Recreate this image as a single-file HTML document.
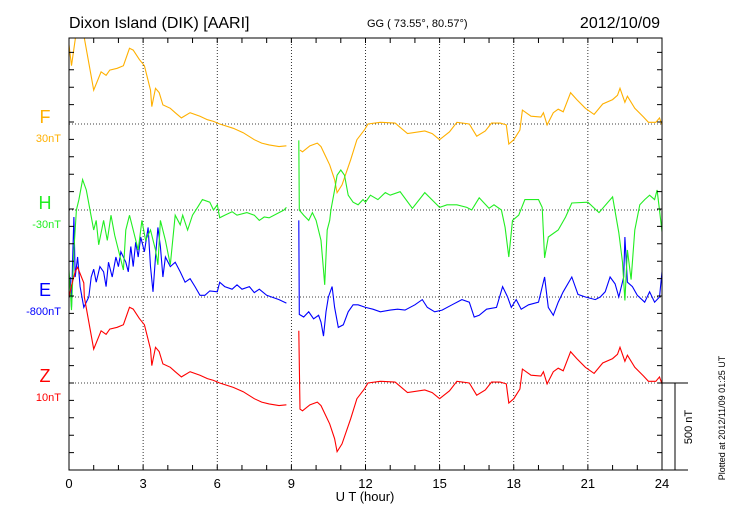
<!DOCTYPE html>
<html><head><meta charset="utf-8"><style>
html,body{margin:0;padding:0;background:#fff;}
svg{display:block;font-family:"Liberation Sans",sans-serif;}
</style></head><body>
<svg id="chart" width="730" height="520" viewBox="0 0 730 520">
<text x="69" y="28" font-size="16" fill="#000">Dixon Island (DIK)  [AARI]</text>
<text x="367" y="27" font-size="11" fill="#000">GG ( 73.55°,  80.57°)</text>
<text x="660" y="28" font-size="16" fill="#000" text-anchor="end">2012/10/09</text>
<g id="grid"></g>
<g id="series"></g>
<g id="axes"></g>
<text x="365" y="501" font-size="13" text-anchor="middle">U T (hour)</text>
<text transform="translate(692,427) rotate(-90)" font-size="11" text-anchor="middle">500 nT</text>
<text transform="translate(725,418) rotate(-90)" font-size="9" text-anchor="middle">Plotted at 2012/11/09 01:25 UT</text>
</svg>
<script>
const xTicks=[0,3,6,9,12,15,18,21,24];
const compNames=["F","H","E","Z"];
const compScales=["30nT","-30nT","-800nT","10nT"];
const compColors=["#ffb000","#22ee22","#0000ff","#ff0000"];
const compBase=[124,210,297,383];

const fT=[0,0.1,0.25,0.35,0.6,0.62,1.0,1.3,1.5,1.65,1.95,2.2,2.45,2.6,2.85,3.05,3.3,3.35,3.5,3.65,3.8,4.1,4.3,4.55,4.9,5.3,5.6,5.85,6.1,6.65,7.05,7.5,7.8,8.1,8.5,8.8,9.0,9.35,9.45,9.75,10.05,10.2,10.55,10.75,10.85,11.05,11.4,11.65,11.95,12.1,12.6,13.2,13.7,14.4,14.7,15.0,15.4,15.7,16.2,16.5,16.85,17.1,17.45,17.7,17.8,18.0,18.25,18.35,18.7,19.1,19.2,19.35,19.6,19.8,20.0,20.3,20.55,20.9,21.25,21.6,22.0,22.2,22.3,22.5,22.6,22.9,23.25,23.45,23.75,23.9,24];
const fV=[455,335,485,630,575,495,195,300,280,310,320,335,435,425,370,335,195,100,205,180,110,90,65,35,65,45,25,15,0,-25,-50,-90,-110,-120,-130,-125,null,-150,-160,-125,-110,-130,-235,-320,-395,-350,-205,-90,-35,0,10,5,-55,-40,-55,-90,-45,10,0,-70,-40,5,5,-5,-115,-90,-35,80,45,40,65,-5,65,85,70,180,140,90,55,115,140,165,205,125,160,90,40,10,10,35,-5];

const zT=[0,0.1,0.25,0.35,0.6,0.62,1.0,1.3,1.5,1.65,1.95,2.2,2.45,2.6,2.85,3.05,3.3,3.35,3.5,3.65,3.8,4.1,4.3,4.55,4.9,5.3,5.6,5.85,6.1,6.65,7.05,7.5,7.8,8.1,8.5,8.8,9.0,9.3,9.35,9.45,9.75,10.05,10.2,10.55,10.75,10.85,11.05,11.4,11.65,11.95,12.1,12.6,13.2,13.7,14.4,14.7,15.0,15.4,15.7,16.2,16.5,16.85,17.1,17.45,17.7,17.8,18.0,18.25,18.35,18.7,19.1,19.2,19.35,19.6,19.8,20.0,20.3,20.55,20.9,21.25,21.6,22.0,22.2,22.3,22.5,22.6,22.9,23.25,23.45,23.75,23.9,24];
const zV=[495,560,640,665,575,495,195,300,280,310,320,335,435,425,370,335,195,100,205,180,110,90,65,35,65,45,25,15,0,-25,-50,-90,-110,-120,-130,-125,null,300,-150,-160,-125,-110,-130,-235,-320,-395,-350,-205,-90,-35,0,10,5,-55,-40,-55,-90,-45,10,0,-70,-40,5,5,-5,-115,-90,-35,80,45,40,65,-5,65,85,70,180,140,90,55,115,140,165,205,125,160,90,40,10,10,35,-5];

const hT=[0,0.1,0.2,0.3,0.4,0.55,0.7,0.85,1.0,1.1,1.2,1.4,1.55,1.7,1.85,2.0,2.2,2.3,2.45,2.6,2.8,2.95,3.1,3.3,3.5,3.6,3.7,3.9,4.1,4.3,4.5,4.6,4.8,5.0,5.2,5.4,5.7,5.85,6.0,6.1,6.3,6.6,6.8,7.2,7.5,7.7,7.9,8.1,8.5,8.7,8.8,9.0,9.3,9.32,9.5,9.7,9.85,10.0,10.2,10.3,10.35,10.45,10.55,10.6,10.75,10.85,11.0,11.15,11.3,11.5,11.7,11.9,12.0,12.2,12.5,12.8,13.0,13.4,13.9,14.4,15.0,15.3,15.7,16.1,16.3,16.6,17.0,17.2,17.5,17.65,17.8,17.95,18.2,18.45,19.0,19.15,19.25,19.4,19.8,20.1,20.35,21.0,21.45,22.0,22.25,22.4,22.5,22.6,22.75,22.9,23.1,23.3,23.5,23.7,23.8,23.9,24];
const hV=[-345,-575,-230,0,60,175,115,0,-115,-60,-200,-60,-175,-30,-145,-230,-345,-115,-30,-115,-230,-60,-175,-115,-230,-315,-60,-175,-315,-30,-85,-30,-115,-30,15,60,45,0,30,-45,-30,-10,-30,-15,-30,-60,-40,-45,-15,0,15,null,400,0,-30,-60,-15,-60,-175,-345,-430,-115,-60,0,115,200,230,200,85,45,30,60,45,85,60,100,85,105,10,100,15,30,30,15,0,70,10,30,0,-100,-270,-60,-30,60,60,15,-275,-155,-115,-40,40,45,-15,75,-130,-300,-520,-230,-400,-115,30,60,85,60,115,0,-125];

const eT=[0,0.05,0.1,0.15,0.2,0.25,0.35,0.45,0.6,0.8,0.9,1.0,1.1,1.25,1.4,1.5,1.6,1.75,1.9,2.0,2.1,2.3,2.4,2.5,2.6,2.7,2.8,2.9,3.05,3.2,3.3,3.4,3.5,3.6,3.7,3.8,3.9,4.1,4.3,4.5,4.7,4.9,5.1,5.3,5.5,5.7,6.0,6.1,6.3,6.6,6.8,7.0,7.3,7.5,7.7,8.0,8.2,8.5,8.8,9.0,9.3,9.32,9.5,9.7,9.9,10.1,10.2,10.3,10.4,10.5,10.65,10.75,10.9,11.1,11.3,11.5,11.7,12,12.3,12.6,13.0,13.3,13.6,14.0,14.3,14.5,14.8,15.1,15.5,15.9,16.2,16.4,16.6,16.9,17.3,17.55,17.75,17.9,18.1,18.3,18.6,19.0,19.25,19.4,19.6,19.8,20.0,20.35,20.6,20.9,21.3,21.5,21.7,21.9,22.1,22.25,22.45,22.5,22.6,22.8,23.0,23.3,23.5,23.7,23.9,24];
const eV=[60,115,-60,230,460,115,230,60,-60,0,115,160,85,175,145,60,200,115,230,175,260,200,145,290,175,315,230,345,260,400,175,30,230,400,290,115,230,175,200,145,85,105,60,10,10,35,30,85,60,45,70,45,60,25,45,10,0,-15,-35,null,440,-100,-115,-85,-125,-105,-145,-225,-85,0,60,-60,-175,-160,-85,-45,-45,-60,-70,-85,-75,-70,-75,-45,-15,-60,-85,-75,-45,-15,-30,-115,-105,-70,-60,60,0,-60,-15,-70,-45,-30,115,-60,-105,-30,30,115,15,0,-15,0,30,115,75,0,115,345,85,60,10,-30,30,-30,0,145];

const X0=69,X1=662,Y0=38,Y1=470,PXNT=87/500;
const xs=h=>X0+(X1-X0)*h/24;
const NS="http://www.w3.org/2000/svg";
function mk(tag,attrs,parent){const e=document.createElementNS(NS,tag);for(const k in attrs)e.setAttribute(k,attrs[k]);parent.appendChild(e);return e;}
const svg=document.getElementById('chart');
const grid=document.getElementById('grid'),axes=document.getElementById('axes'),ser=document.getElementById('series');
const defs=mk('defs',{},svg);
const cp=mk('clipPath',{id:'clip'},defs);
mk('rect',{x:X0,y:Y0,width:X1-X0,height:Y1-Y0},cp);

xTicks.forEach(h=>{
  if(h>0&&h<24){const l=mk('line',{x1:xs(h),x2:xs(h),y1:Y0,y2:Y1,stroke:'#000','stroke-width':0.8,'stroke-dasharray':'1,2'},grid);
  
  }
  const t=mk('text',{x:xs(h),y:488,'font-size':13,'text-anchor':'middle'},axes);t.textContent=h;
  
  
});
compBase.forEach((b,i)=>{
  const l=mk('line',{x1:X0,x2:X1,y1:b,y2:b,stroke:'#000','stroke-width':0.8,'stroke-dasharray':'1,2'},grid);
  
  
  const t=mk('text',{x:45,y:b-1,'font-size':18,'text-anchor':'middle',fill:compColors[i]},axes);t.textContent=compNames[i];
  
  
  const s=mk('text',{x:61,y:b+18,'font-size':11,'text-anchor':'end',fill:compColors[i]},axes);s.textContent=compScales[i];
  
  
});
const fr=mk('rect',{x:X0,y:Y0,width:X1-X0,height:Y1-Y0,fill:'none',stroke:'#000','stroke-width':1},axes);


let d='';
for(let h=0;h<=24;h++){d+=`M${xs(h)},${Y0}v5M${xs(h)},${Y1}v-5`;}
for(let y=Y1;y>=Y0;y-=500/5*PXNT){d+=`M${X0},${y}h5M${X1},${y}h-5`;}
d+=`M${X1},${Y1}H688M${X1},383H688M675,383V${Y1}`;
const tk=mk('path',{d:d,stroke:'#000','stroke-width':1,fill:'none'},axes);



function draw(T,V,base,color,name){
  let p='',pen=false;
  for(let i=0;i<T.length;i++){
    if(V[i]===null){pen=false;continue;}
    const x=xs(T[i]).toFixed(1),y=(base-V[i]*PXNT).toFixed(1);
    p+=(pen?'L':'M')+x+','+y;pen=true;
  }
  const e=mk('path',{d:p,fill:'none',stroke:color,'stroke-width':1.1,'clip-path':'url(#clip)'},ser);
  
  
}
draw(fT,fV,compBase[0],compColors[0],'series-F');
draw(eT,eV,compBase[2],compColors[2],'series-E');
draw(hT,hV,compBase[1],compColors[1],'series-H');
draw(zT,zV,compBase[3],compColors[3],'series-Z');
</script>
</body></html>
